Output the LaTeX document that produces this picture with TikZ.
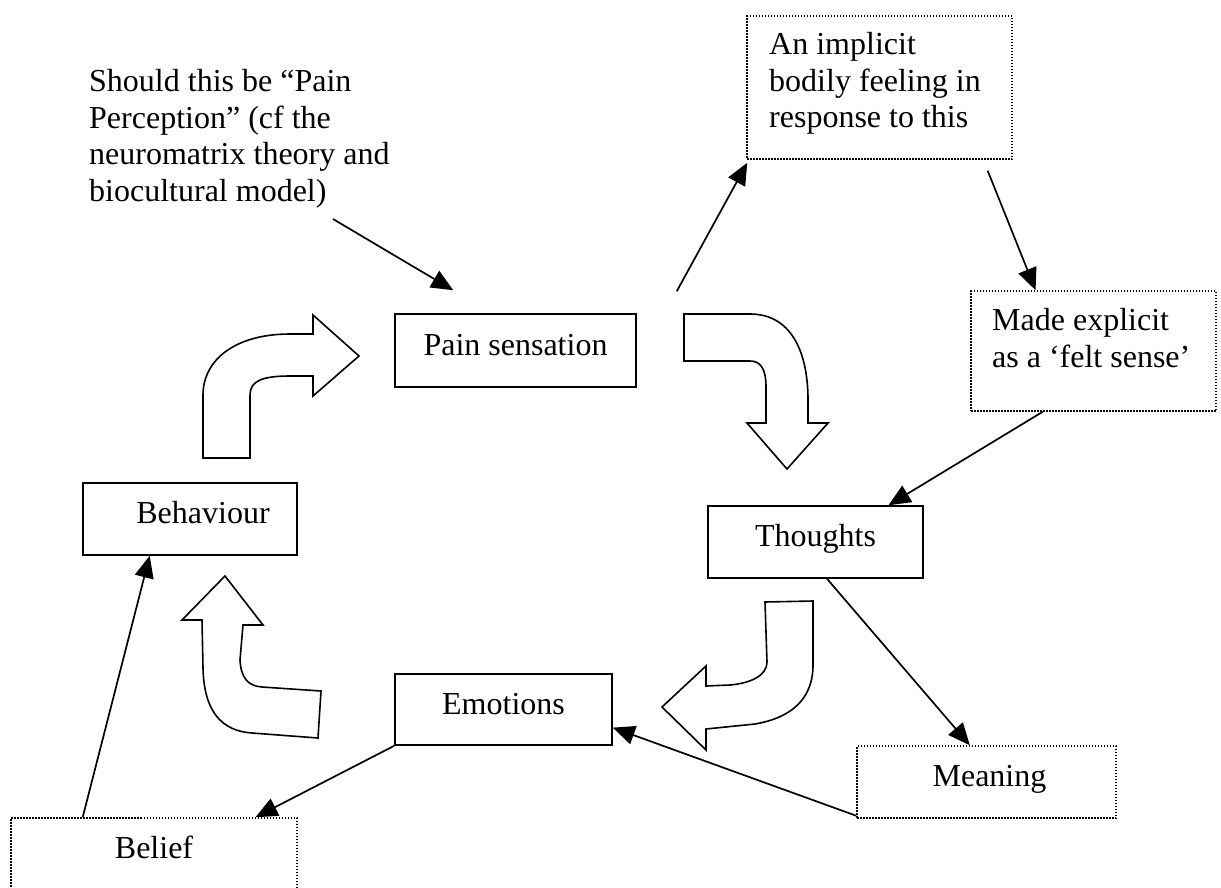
\documentclass[tikz,border=0pt]{standalone}
\usepackage{fontspec}
\setmainfont{Liberation Serif}
\usetikzlibrary{arrows.meta,calc}
\begin{document}
\begin{tikzpicture}[x=1pt,y=-1pt,
  every node/.style={font=\fontsize{32}{36.6}\selectfont},
  solidbox/.style={draw,line width=1.5pt,inner sep=0pt,text height=18pt,text depth=9pt},
  dotbox/.style={draw,line width=1.5pt,dash pattern=on 1.5pt off 1.5pt,inner sep=0pt,text height=18pt,text depth=9pt},
  note/.style={inner sep=0pt,align=left,anchor=north west},
  link/.style={line width=1.7pt,-{Triangle[length=22pt,width=19pt]}},
  bigarrow/.style={line width=1.6pt,line join=miter,fill=white}]
\clip (0,0) rectangle (1221,887);
\fill[white] (0,0) rectangle (1221,887);

% boxes of the cycle
\node[solidbox,minimum width=241pt,minimum height=73pt] (pain) at (515.5,350.5) {Pain sensation};
\node[solidbox,minimum width=214pt,minimum height=72pt] (beh) at (190,519) {\hspace*{26pt}Behaviour};
\node[solidbox,minimum width=215pt,minimum height=72pt] (tho) at (815.5,542) {Thoughts};
\node[solidbox,minimum width=217pt,minimum height=71pt] (emo) at (503.5,709.5) {Emotions};

% dotted side boxes
\node[dotbox,minimum width=259pt,minimum height=72pt] (mean) at (986.5,782) {\hspace*{6pt}Meaning};
\node[dotbox,minimum width=286pt,minimum height=72pt] (bel) at (154,854) {Belief};
\node[dotbox,minimum width=265pt,minimum height=143pt] (imp) at (879.5,87.5) {};
\node[dotbox,minimum width=245pt,minimum height=120pt] (mad) at (1093.5,351) {};

% multi-line texts
\node[note] (qtext) at (89,69) {Should this be “Pain\\Perception” (cf the\\neuromatrix theory and\\biocultural model)};
\node[note] (imptext) at (769,32) {An implicit\\bodily feeling in\\response to this};
\node[note] (madtext) at (992,308) {Made explicit\\as a ‘felt sense’};

% curved block arrows of the cycle
\draw[bigarrow] (203,458) -- (203,395) .. controls (203,360) and (235,334) .. (290,334)
  -- (313,334) -- (313,315) -- (359,356) -- (313,396) -- (313,376) -- (290,376)
  .. controls (262,376) and (250,381) .. (250,395) -- (250,458) -- cycle;
\draw[bigarrow] (684,314) -- (750,314) .. controls (790,314) and (808,350) .. (808,400)
  -- (808,423) -- (828,423) -- (787,469) -- (747,423) -- (766,423) -- (766,387)
  .. controls (766,368) and (760,361) .. (750,361) -- (684,361) -- cycle;
\draw[bigarrow] (765,602) -- (813,601) -- (813,665) .. controls (813,700) and (790,718) .. (755,724)
  -- (706,729) -- (706,750) -- (662,707) -- (706,666) -- (706,686) -- (730,685)
  .. controls (752,683) and (767,675) .. (767,662) -- cycle;
\draw[bigarrow] (321,691) -- (318,738) -- (252,733) .. controls (222,731) and (204,712) .. (203,668)
  -- (202,620) -- (182,620) -- (225,576) -- (263,625) -- (243,625) -- (240,660)
  .. controls (241,678) and (248,686) .. (262,687) -- cycle;

% connectors
\coordinate (noteTail) at (333,219);
\coordinate (painTail) at ($(pain.north east)+(40,-22)$);
\draw[link] (noteTail) -- ($(pain.north west)+(59,-23)$);
\draw[link] (painTail) -- ($(imp.south west)+(1,3)$);
\draw[link] ($(imp.south west)!0.906!(imp.south east)+(0,11)$) -- ($(mad.north west)!0.265!(mad.north east)$);
\draw[link] ($(mad.south west)!0.294!(mad.south east)$) -- ($(tho.north west)!0.837!(tho.north east)$);
\draw[link] ($(tho.south west)!0.553!(tho.south east)$) -- ($(mean.north west)!0.436!(mean.north east)$);
\draw[link] ($(mean.south west)+(0,-3)$) -- ($(emo.north east)!0.75!(emo.south east)$);
\draw[link] (emo.south west) -- ($(bel.north west)!0.853!(bel.north east)$);
\draw[link] ($(bel.north west)!0.252!(bel.north east)$) -- ($(beh.south west)!0.313!(beh.south east)$);
\end{tikzpicture}
\end{document}
